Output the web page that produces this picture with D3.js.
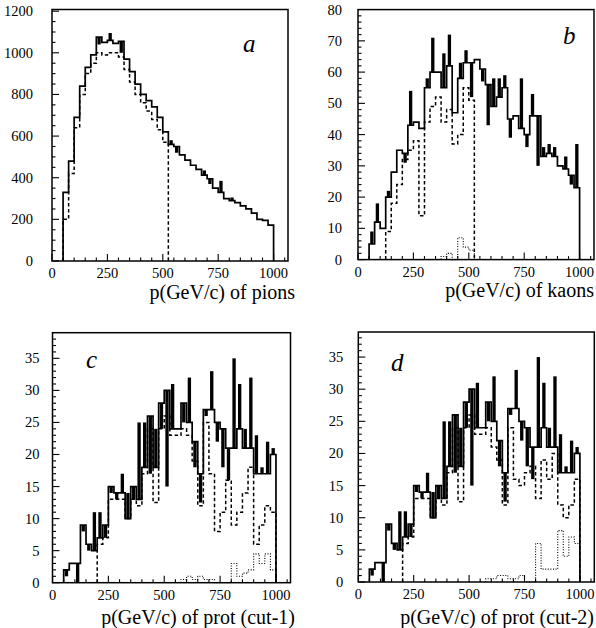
<!DOCTYPE html>
<html>
<head>
<meta charset="utf-8">
<script src="https://cdn.jsdelivr.net/npm/d3@7"></script>
<style>
  body { margin: 0; background: #fff; }
  svg text { font-family: "Liberation Serif", "Times New Roman", serif; fill: #000; }
</style>
</head>
<body>
<div id="chart"></div>
<script>
// all four histograms share the same momentum binning
const BIN_START = 50, BIN_WIDTH = 25;
const xTickLabels = [0, 250, 500, 750, 1000];

// (a) pions
const pionsSolid = [330, 480, 690, 840, 930, 990, 1075, 1050, 1060, 1045, 1055, 970, 910, 850, 800, 770, 740, 690, 620,
  560, 550, 510, 485, 460, 440, 412, 395, 350, 330, 300, 290, 280, 265, 250, 230, 200, 195, 172];
const pionsAlt = [null, null, null, null, null, null, 1040, null, 1095, null, 1000, null, null, null, null, null, null, null, null,
  580, 520, null, null, null, null, 435, 370, null, 385, null, 305, null, null, null, null, null, null, null];
const pionsDashedStart = 50;
const pionsDashed = [200, 420, 640, 800, 900, 950, 1000, 990, 1000, 1000, 980, 920, 860, 800, 760, 720, 680, 630, 570];
const pionsYTicks = [0, 200, 400, 600, 800, 1000, 1200];

// (b) kaons
const kaonsSolid = [5, 12, 10, 20, 28, 35, 34, 43, 44, 42, 55, 60, 60, 55, 62, 47, 58, 63, 63,
  64, 61, 56, 49, 52, 55, 45, 46, 42, 40, 46, 46, 33, 34, 33, 30, 29, 27, 23];
const kaonsAlt = [9, 18, null, 22, null, null, 31, 54, null, null, 58, 71, null, 66, 72, null, 63, 67, 52,
  null, 57, 43, 58, 58, 59, 39, null, 58, 36, 53, 30, 36, 37, 36, null, 33, 24, 37];
const kaonsDashedStart = 125;
const kaonsDashed = [9, 18, 24, 32, 35, 38, 14, 44, 49, 52, 44, 48, 37, 40, 55, 51];
const kaonsDottedStart = 375;
const kaonsDotted = [1, 2, 0, 7, 4, 3];
const kaonsYTicks = [0, 10, 20, 30, 40, 50, 60, 70, 80];

// (c), (d) protons: same full sample, two different cuts
const protSolid = [2, 3, 3, 9, 6, 5, 7, 9, 15, 14, 14, 10, 15, 13, 18, 26, 18, 28, 30,
  24, 24, 28, 25, 22, 17, 27, 27, 25, 24, 21, 21, 24, 21, 21, 17, 17, 17, 20];
const protAlt = [1, null, 0, 8, 5, 11, 11, 7, 14, 13, 17, 14, 13, 25, 25, 17, 24, 24, 15,
  31, null, 25, 32, 18, 12.5, 26, 33, 22, 18, 16, 35, 31, 24, 32, 23, 18, 22, 21];
const protDashedStart = 200;
const cut1Dashed = [6, 7, 13, 13, 13, 10, 13, 12, 17, 24, 12.5, 24, 26, 23, 23, 24,
  23, 19, 12, 25, 17, 8, 11, 16, 9, 11, 14, 18, 6, 9, 12, 11];
const cut2Dashed = [6, 7, 13, 13, 13, 10, 13, 12, 17, 24, 12.5, 24, 26, 23, 23, 24,
  21, 19, 12, 24, 16, 15, 17, 18, 13, 19, 16, 20, 12, 10, 12, 16];
const protDottedStart = 575;
const cut1Dotted = [0.5, 1, 0.5, 1, 0.5, 0.5, 0, 0, 0, 3, 1, 1.5, 2, 4.5, 3, 4.5, 2];
const cut2Dotted = [0.5, 0.5, 1, 1, 0.5, 0.5, 1, 0, 0, 6, 2, 2, 2, 8, 4, 7, 6];
const protYTicks = [0, 5, 10, 15, 20, 25, 30, 35];

const axisTitles = ["p(GeV/c) of pions", "p(GeV/c) of kaons", "p(GeV/c) of prot (cut-1)", "p(GeV/c) of prot (cut-2)"];
const panelLetters = ["a", "b", "c", "d"];


class HistPanel {

    constructor(svg, cfg) {
        this.root = svg;
        this.cfg = cfg;
        this.initVis();
    }

    initVis() {
        let vis = this;
        let c = vis.cfg;

        vis.svg = vis.root.append("g")
            .attr("transform", `translate(${c.left}, ${c.top})`);

        vis.x = d3.scaleLinear().domain([0, 1065]).range([0, c.width]);
        vis.y = d3.scaleLinear().domain([0, c.yMax]).range([c.height, 0]);

        vis.updateVis();
    }

    stepPath(values, start) {
        let vis = this;
        let pts = values.map((v, i) => [start + i * BIN_WIDTH, v]);
        let end = start + values.length * BIN_WIDTH;
        pts.unshift([start, 0]);
        pts.push([end, values[values.length - 1]], [end, 0]);
        return d3.line()
            .x(d => vis.x(d[0]))
            .y(d => vis.y(d[1]))
            .curve(d3.curveStepAfter)(pts);
    }

    updateVis() {
        let vis = this;
        let c = vis.cfg;

        // dotted and dashed first so the solid sits on top
        if (c.dotted) {
            vis.svg.append("path")
                .attr("d", vis.stepPath(c.dotted, c.dottedStart))
                .attr("fill", "none")
                .attr("stroke", "#000")
                .attr("stroke-width", 1.1)
                .attr("stroke-dasharray", "1,1.6");
        }

        vis.svg.append("path")
            .attr("d", vis.stepPath(c.dashed, c.dashedStart))
            .attr("fill", "none")
            .attr("stroke", "#000")
            .attr("stroke-width", 1.5)
            .attr("stroke-dasharray", "3.5,2.5");

        vis.svg.append("path")
            .attr("d", vis.stepPath(c.solid, BIN_START))
            .attr("fill", "none")
            .attr("stroke", "#000")
            .attr("stroke-width", 1.7);

        // heavy black blocks where the fine bins fluctuate
        let spikes = c.alt
            .map((a, i) => ({i: i, a: a, v: c.solid[i]}))
            .filter(d => d.a !== null);

        vis.svg.selectAll(".spike")
            .data(spikes)
            .enter().append("rect")
            .attr("class", "spike")
            .attr("x", d => vis.x(BIN_START + d.i * BIN_WIDTH + BIN_WIDTH * 0.2))
            .attr("width", vis.x(BIN_WIDTH * 0.6) - vis.x(0))
            .attr("y", d => vis.y(Math.max(d.a, d.v)))
            .attr("height", d => Math.abs(vis.y(d.a) - vis.y(d.v)))
            .attr("fill", "#000");

        // frame
        vis.svg.append("rect")
            .attr("width", c.width)
            .attr("height", c.height)
            .attr("fill", "none")
            .attr("stroke", "#000")
            .attr("stroke-width", 1.5);

        // inward ticks, PAW style
        let xMinor = d3.range(0, 1051, 50);
        vis.svg.selectAll(".xtick")
            .data(xMinor)
            .enter().append("line")
            .attr("x1", d => vis.x(d))
            .attr("x2", d => vis.x(d))
            .attr("y1", c.height)
            .attr("y2", d => c.height - (d % 250 === 0 ? 7 : 3.5))
            .attr("stroke", "#000")
            .attr("stroke-width", 1.1);

        let yMinor = d3.range(0, c.yMax, c.yMinor);
        vis.svg.selectAll(".ytick")
            .data(yMinor)
            .enter().append("line")
            .attr("y1", d => vis.y(d))
            .attr("y2", d => vis.y(d))
            .attr("x1", 0)
            .attr("x2", d => (Math.abs(d / c.yMajor - Math.round(d / c.yMajor)) < 1e-6 ? 7 : 3.5))
            .attr("stroke", "#000")
            .attr("stroke-width", 1.1);

        vis.svg.selectAll(".xlab")
            .data(xTickLabels)
            .enter().append("text")
            .attr("x", d => vis.x(d))
            .attr("y", c.height + 17)
            .attr("text-anchor", "middle")
            .style("font-size", "14.5px")
            .text(d => d);

        vis.svg.selectAll(".ylab")
            .data(c.yTicks)
            .enter().append("text")
            .attr("x", -c.yLabelGap)
            .attr("y", d => vis.y(d) + 5)
            .attr("text-anchor", "end")
            .style("font-size", "14.5px")
            .text(d => d);

        vis.svg.append("text")
            .attr("x", c.titleX - c.left)
            .attr("y", c.titleY - c.top)
            .attr("text-anchor", "end")
            .style("font-size", "20px")
            .text(c.title);

        vis.svg.append("text")
            .attr("x", c.letterX - c.left)
            .attr("y", c.letterY - c.top)
            .style("font-size", "25px")
            .style("font-style", "italic")
            .text(c.letter);
    }
}


let svg = d3.select("#chart").append("svg")
    .attr("width", 596)
    .attr("height", 628);

new HistPanel(svg, {
    left: 52, top: 9.5, width: 236, height: 251.5, yMax: 1208, yMinor: 50, yMajor: 200, yLabelGap: 19,
    solid: pionsSolid, alt: pionsAlt, dashed: pionsDashed, dashedStart: pionsDashedStart,
    yTicks: pionsYTicks, title: axisTitles[0], titleX: 295, titleY: 299,
    letter: panelLetters[0], letterX: 243, letterY: 52
});

new HistPanel(svg, {
    left: 358, top: 9.6, width: 236, height: 250, yMax: 80, yMinor: 2, yMajor: 10, yLabelGap: 16,
    solid: kaonsSolid, alt: kaonsAlt, dashed: kaonsDashed, dashedStart: kaonsDashedStart,
    dotted: kaonsDotted, dottedStart: kaonsDottedStart,
    yTicks: kaonsYTicks, title: axisTitles[1], titleX: 594, titleY: 297,
    letter: panelLetters[1], letterX: 563, letterY: 44
});

new HistPanel(svg, {
    left: 52.5, top: 332.7, width: 238, height: 250, yMax: 39, yMinor: 1, yMajor: 5, yLabelGap: 13,
    solid: protSolid, alt: protAlt, dashed: cut1Dashed, dashedStart: protDashedStart,
    dotted: cut1Dotted, dottedStart: protDottedStart,
    yTicks: protYTicks, title: axisTitles[2], titleX: 295, titleY: 624,
    letter: panelLetters[2], letterX: 86, letterY: 368
});

new HistPanel(svg, {
    left: 358.3, top: 332, width: 236, height: 250, yMax: 38.9, yMinor: 1, yMajor: 5, yLabelGap: 15,
    solid: protSolid, alt: protAlt, dashed: cut2Dashed, dashedStart: protDashedStart,
    dotted: cut2Dotted, dottedStart: protDottedStart,
    yTicks: protYTicks, title: axisTitles[3], titleX: 594, titleY: 624,
    letter: panelLetters[3], letterX: 391, letterY: 371
});
</script>
</body>
</html>
